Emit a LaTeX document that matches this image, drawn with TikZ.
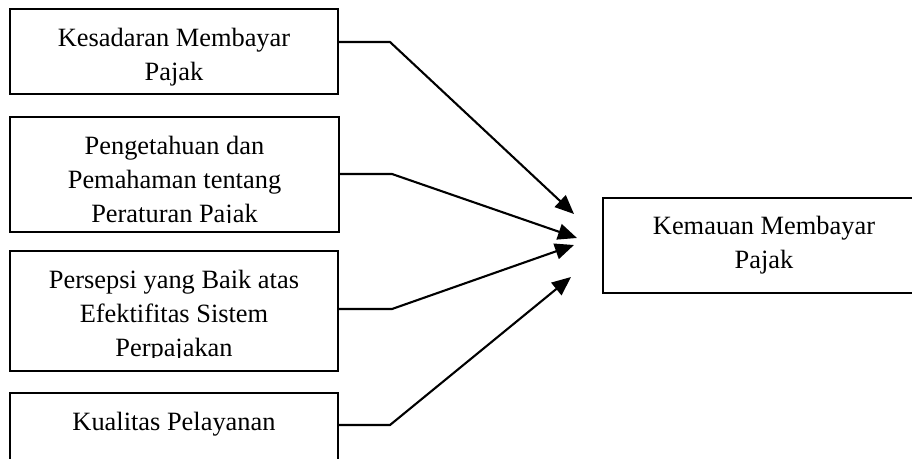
\documentclass[tikz,border=0pt]{standalone}
\usepackage{fontspec}
\setmainfont{Liberation Serif}
\usetikzlibrary{calc,arrows.meta}
\tikzset{
  ubox/.style={draw, line width=1.9pt, inner sep=0pt, outer sep=0pt, anchor=north west},
  lab/.style={font=\fontsize{26.4}{34}\selectfont, align=center, inner sep=0pt, anchor=north},
  link/.style={line width=2.1pt, -{Triangle[length=19pt,width=16pt]}}
}

\begin{document}
\begin{tikzpicture}[x=1pt,y=1pt]
  \path[use as bounding box] (0,0) rectangle (912,-458);
  \clip (0,0) rectangle (912,-458);

  % boxes
  \node[ubox, minimum width=328pt, minimum height=85pt] (kesadaran) at (10,-9) {};
  \node[ubox, minimum width=329pt, minimum height=115pt] (pengetahuan) at (10,-117) {};
  \node[ubox, minimum width=328pt, minimum height=120pt] (persepsi) at (10,-251) {};
  \node[ubox, minimum width=328pt, minimum height=85pt] (kualitas) at (10,-393) {};
  \node[ubox, minimum width=322pt, minimum height=95pt] (kemauan) at (603,-198) {};

  % texts, cut at the lower edge as in the original
  \begin{scope}
    \clip (kesadaran.south west) rectangle (kesadaran.north east);
    \node[lab] (kesadaranT) at ($(kesadaran.north)+(0,-19)$) {Kesadaran Membayar\\Pajak};
  \end{scope}
  \begin{scope}
    \clip (10,-222) rectangle (pengetahuan.north east);
    \node[lab] (pengetahuanT) at ($(pengetahuan.north)+(0,-19)$) {Pengetahuan dan\\Pemahaman tentang\\Peraturan Pajak};
  \end{scope}
  \begin{scope}
    \clip (10,-357) rectangle (persepsi.north east);
    \node[lab] (persepsiT) at ($(persepsi.north)+(0,-19)$) {Persepsi yang Baik atas\\Efektifitas Sistem\\Perpajakan};
  \end{scope}
  \node[lab] (kualitasT) at ($(kualitas.north)+(0,-19)$) {Kualitas Pelayanan};
  \node[lab] (kemauanT) at ($(kemauan.north)+(0,-18)$) {Kemauan Membayar\\Pajak};

  % bends and arrow tips
  \coordinate (b1) at (390,-42);
  \coordinate (b2) at (392,-174);
  \coordinate (b3) at (392,-309);
  \coordinate (b4) at (390,-425);
  \coordinate (h1) at (574,-214);
  \coordinate (h2) at (577,-238);
  \coordinate (h3) at (574,-245);
  \coordinate (h4) at (571,-277);

  \draw[link] (kesadaran.east |- b1) -- (b1) -- (h1);
  \draw[link] (pengetahuan.east |- b2) -- (b2) -- (h2);
  \draw[link] (persepsi.east |- b3) -- (b3) -- (h3);
  \draw[link] (kualitas.east |- b4) -- (b4) -- (h4);
\end{tikzpicture}
\end{document}
